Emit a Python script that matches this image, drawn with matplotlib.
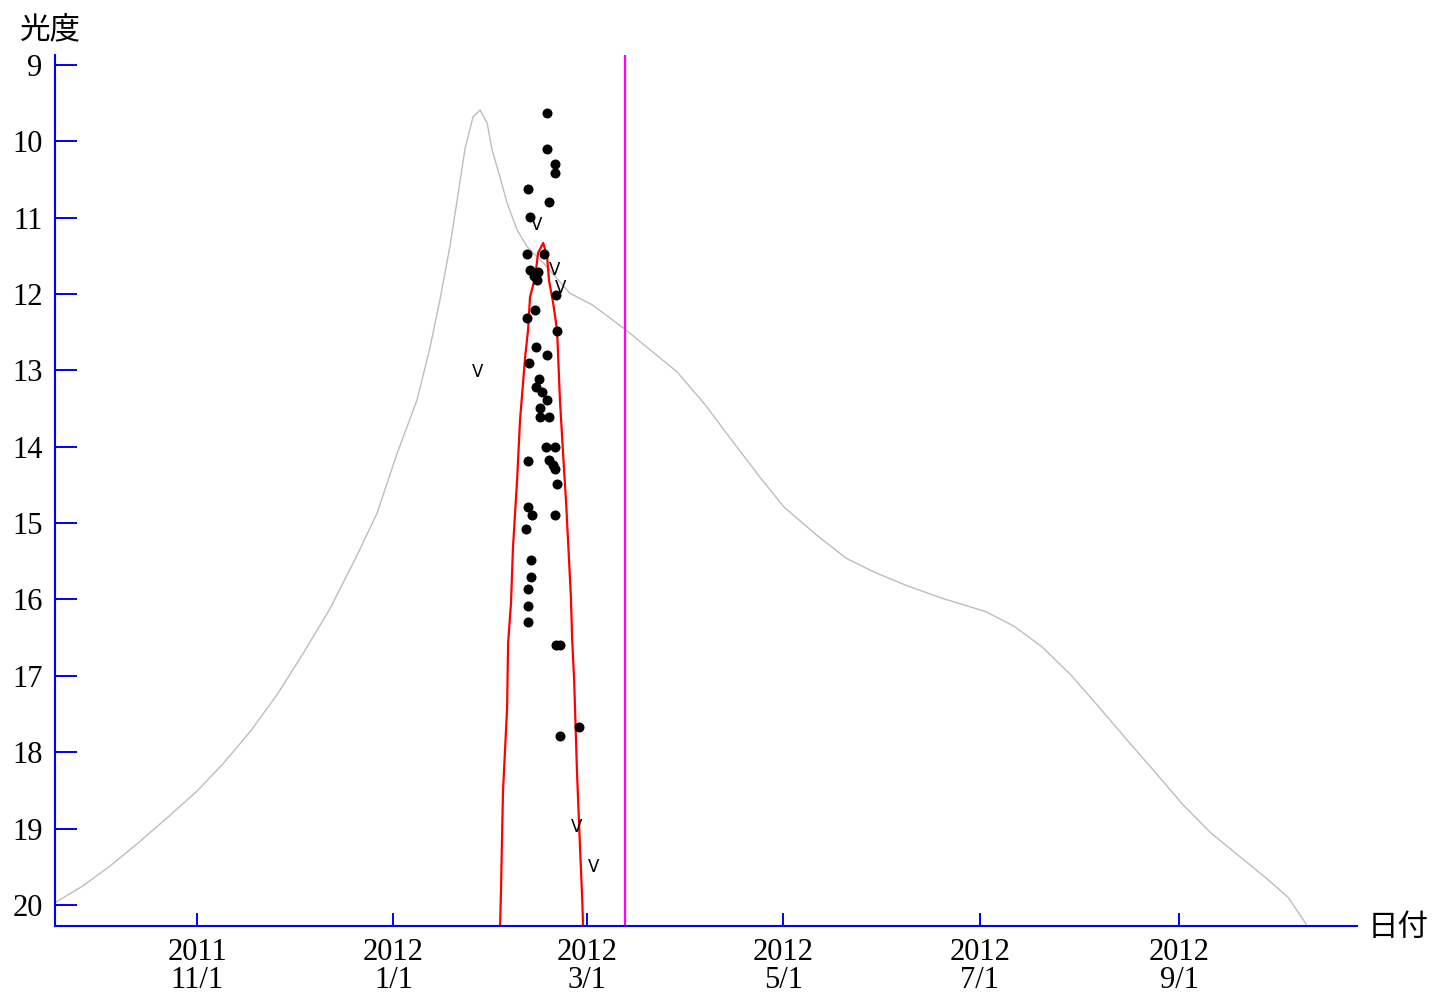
import numpy as np
import pandas as pd
import matplotlib
matplotlib.use("Agg")
import matplotlib.pyplot as plt

# x values are days counted from 2011-11-01
t0 = pd.Timestamp("2011-11-01")

# predicted light curve (gray)
curve_day = [-44.1, -35.4, -27.0, -18.6, -9.3, 0.0, 8.1, 16.5, 24.8, 32.9, 41.3, 49.7,
             55.9, 62.1, 68.3, 72.4, 75.5, 78.6, 80.7, 83.2, 85.7, 87.9, 90.1, 91.6,
             94.1, 96.3, 99.4, 102.5, 107.5, 115.8, 122.7, 132.9, 140.4, 149.1, 157.8,
             166.5, 175.2, 182.3, 192.5, 201.6, 210.2, 220.5, 231.1, 245.0, 253.7, 262.4,
             271.4, 280.1, 288.8, 297.5, 306.2, 314.9, 323.6, 332.3, 338.8, 344.4]
curve_mag = [19.97, 19.75, 19.49, 19.20, 18.86, 18.51, 18.15, 17.73, 17.25, 16.71, 16.12, 15.42,
             14.87, 14.09, 13.39, 12.69, 12.06, 11.36, 10.79, 10.10, 9.68, 9.59, 9.76, 10.11,
             10.47, 10.81, 11.16, 11.38, 11.59, 11.99, 12.14, 12.46, 12.72, 13.02, 13.45,
             13.94, 14.42, 14.79, 15.16, 15.46, 15.64, 15.82, 15.98, 16.16, 16.35, 16.62,
             16.99, 17.41, 17.84, 18.26, 18.69, 19.06, 19.36, 19.66, 19.90, 20.25]

# fitted curve from the observations (red)
fit_day = [94.1, 94.4, 95.0, 96.3, 96.6, 97.5, 98.1, 99.4, 100.3, 101.9, 102.8, 103.4,
           105.0, 105.9, 107.5, 108.7, 109.3, 110.6, 111.8, 112.7, 113.7, 114.6, 115.2,
           116.1, 116.5, 117.1, 118.0, 118.9, 119.6, 119.9]
fit_mag = [20.30, 19.80, 18.53, 17.41, 16.57, 16.05, 15.33, 14.43, 13.65, 12.82, 12.47, 12.04,
           11.78, 11.46, 11.33, 11.51, 11.82, 12.12, 12.47, 13.39, 14.11, 14.72, 15.22,
           15.97, 16.53, 17.05, 18.27, 19.21, 19.91, 20.30]

# visual / CCD estimates
obs_day = [108.7, 108.7, 111.2, 111.2, 102.8, 109.3, 103.4, 102.5, 107.8, 103.4, 105.9, 105.6,
           104.7, 111.5, 105.0, 102.5, 111.8, 105.3, 108.7, 103.1, 106.2, 105.3, 107.1, 108.7,
           106.5, 106.5, 109.3, 108.4, 111.2, 102.8, 109.3, 110.6, 111.2, 111.8, 102.8, 104.0,
           111.2, 102.2, 103.7, 103.7, 102.8, 102.8, 102.8, 111.5, 112.7, 118.6, 112.7]
obs_mag = [9.63, 10.10, 10.30, 10.41, 10.62, 10.79, 10.99, 11.48, 11.48, 11.68, 11.71, 11.82,
           11.76, 12.01, 12.21, 12.31, 12.48, 12.69, 12.80, 12.90, 13.11, 13.22, 13.28, 13.39,
           13.49, 13.61, 13.61, 14.00, 14.00, 14.19, 14.17, 14.24, 14.29, 14.49, 14.79, 14.89,
           14.89, 15.08, 15.48, 15.71, 15.86, 16.08, 16.29, 16.60, 16.60, 17.67, 17.79]

# upper limits ("fainter than")
limit_day = [87.0, 105.3, 110.9, 113.0, 118.0, 123.0]
limit_mag = [13.02, 11.10, 11.68, 11.92, 18.98, 19.50]

today = pd.Timestamp("2012-03-13")

tick_dates = ["2011-11-01", "2012-01-01", "2012-03-01", "2012-05-01", "2012-07-01", "2012-09-01"]
tick_labels = ["2011\n11/1", "2012\n1/1", "2012\n3/1", "2012\n5/1", "2012\n7/1", "2012\n9/1"]
mag_ticks = list(range(9, 21))

blue = "#0000FF"
num_font = "Liberation Serif"
jp_font = ["Noto Sans CJK JP", "DejaVu Sans"]

fig = plt.figure(figsize=(14.36, 10), dpi=100)
ax = fig.add_axes([55 / 1436, 74 / 1000, 1302 / 1436, 871 / 1000])

ax.plot(curve_day, curve_mag, color="#BDBDBD", lw=1.0)
ax.plot(fit_day, fit_mag, color="#FF0000", lw=1.6)
today_day = (today - t0).days
ax.axvline(today_day, color="#FF00FF", lw=1.6)
ax.scatter(obs_day, obs_mag, s=52, color="black", zorder=4, linewidths=0)
for d, m in zip(limit_day, limit_mag):
    ax.text(d, m, "V", ha="center", va="center", fontsize=12,
            family="DejaVu Sans", color="black", zorder=5)

ax.set_xlim(-44.1, 360.2)
ax.set_ylim(20.276, 8.869)

xt = (pd.to_datetime(tick_dates) - t0).days
ax.set_xticks(xt)
ax.set_xticklabels(tick_labels, fontsize=22, family=num_font, linespacing=0.95)
ax.set_yticks(mag_ticks)
ax.set_yticklabels([str(v) for v in mag_ticks], fontsize=22, family=num_font)

ax.tick_params(axis="x", direction="in", length=9.5, width=1.4, color=blue, pad=9)
ax.tick_params(axis="y", direction="in", length=16, width=1.4, color=blue, pad=9)

for s in ["top", "right"]:
    ax.spines[s].set_visible(False)
for s in ["left", "bottom"]:
    ax.spines[s].set_color(blue)
    ax.spines[s].set_linewidth(1.5)

fig.text(20 / 1436, 1 - 30 / 1000, "光度", family=jp_font, fontsize=22,
         ha="left", va="center")
fig.text(1368 / 1436, 1 - 928 / 1000, "日付", family=jp_font, fontsize=22,
         ha="left", va="center")

fig.savefig("out.png", dpi=100, facecolor="white")
